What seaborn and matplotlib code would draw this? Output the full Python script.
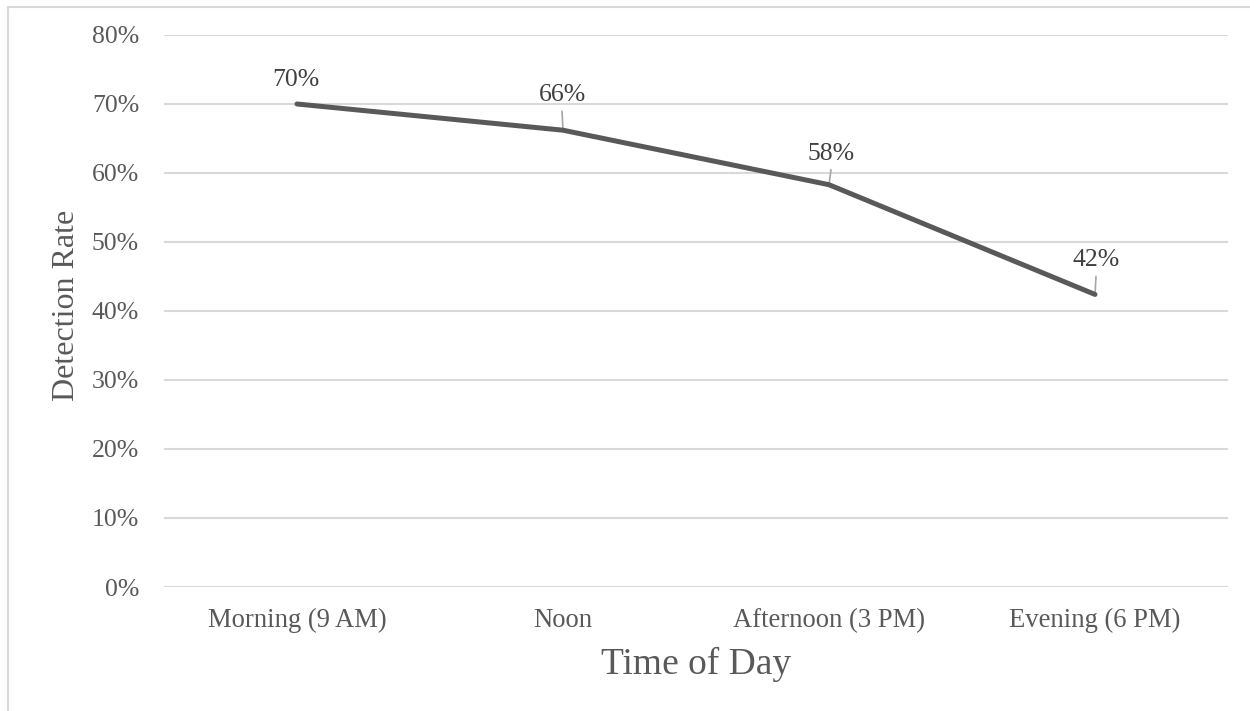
import matplotlib
matplotlib.use("Agg")
import matplotlib.pyplot as plt
from matplotlib.lines import Line2D
from matplotlib.ticker import PercentFormatter, MultipleLocator
import seaborn as sns
import pandas as pd

# Detection rate by time of day
times = ["Morning (9 AM)", "Noon", "Afternoon (3 PM)", "Evening (6 PM)"]
rates = [0.70, 0.662, 0.583, 0.424]

# Label baseline offsets (pixels) from each point, and leader-line flags
label_offsets = [(-1, 18), (-1, 29), (2, 25), (1, 28)]
leaders = [False, True, True, True]

df = pd.DataFrame({"Time of Day": times, "Detection Rate": rates})

sns.set_theme(style="white")
plt.rcParams["font.family"] = ["Liberation Serif", "DejaVu Serif"]

TEXT = "#595959"
LABEL = "#404040"
GRID = "#d9d9d9"

fig = plt.figure(figsize=(12.5, 7.11), dpi=100)
ax = fig.add_axes([0.1312, 0.1744, 0.8512, 0.7764])

for y in [i / 10 for i in range(9)]:
    ax.axhline(y, color=GRID, lw=1.5, zorder=0)

sns.lineplot(data=df, x="Time of Day", y="Detection Rate", sort=False,
             color=TEXT, lw=3.6, ax=ax, zorder=3,
             solid_capstyle="round", solid_joinstyle="round")

for i, (t, v) in enumerate(zip(times, rates)):
    dx, dy = label_offsets[i]
    ax.annotate(f"{v:.0%}", xy=(i, v), xytext=(dx, dy), textcoords="offset pixels",
                ha="center", va="baseline", fontsize=18.5, color=LABEL, zorder=4)
    if leaders[i]:
        ax.annotate("", xy=(i, v), xytext=(dx, dy - 10), textcoords="offset pixels",
                    arrowprops=dict(arrowstyle="-", color="#a6a6a6", lw=1.2,
                                    shrinkA=0, shrinkB=1), zorder=2)

ax.set_xlim(-0.5, 3.5)
ax.set_ylim(0, 0.8)
ax.yaxis.set_major_locator(MultipleLocator(0.1))
ax.yaxis.set_major_formatter(PercentFormatter(1.0, decimals=0))

for s in ax.spines.values():
    s.set_visible(False)
ax.tick_params(axis="both", length=0, labelcolor=TEXT)
ax.tick_params(axis="y", pad=18, labelsize=18.5)
ax.tick_params(axis="x", pad=15, labelsize=19.2)

ax.set_xlabel("Time of Day", fontsize=27, color=TEXT, labelpad=10)
ax.set_ylabel("Detection Rate", fontsize=23, color=TEXT, labelpad=8)
ax.yaxis.label.set_y(0.511)

# Outer chart-area border (top and left edges)
fig.add_artist(Line2D([8 / 1250, 1.0], [1 - 7 / 711, 1 - 7 / 711],
                      transform=fig.transFigure, color=GRID, lw=1.5))
fig.add_artist(Line2D([8 / 1250, 8 / 1250], [0.0, 1 - 7 / 711],
                      transform=fig.transFigure, color=GRID, lw=1.5))

fig.savefig("out.png", dpi=100, facecolor="white")
